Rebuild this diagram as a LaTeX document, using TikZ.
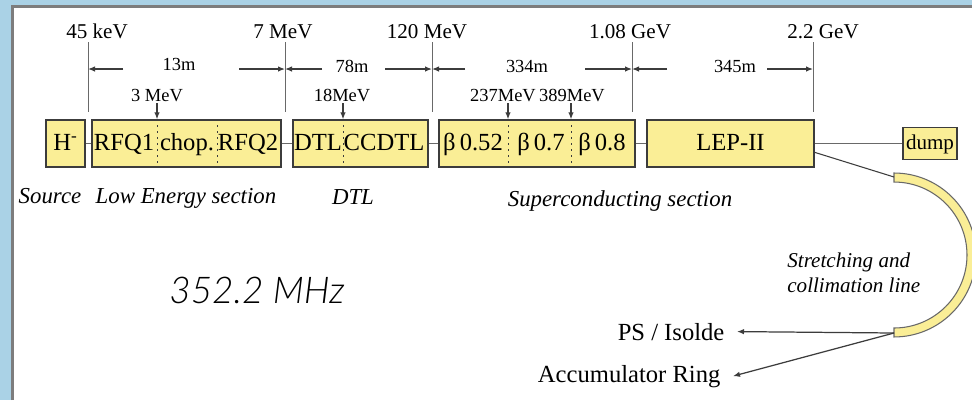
\documentclass[tikz,border=0pt]{standalone}
\usepackage{fontspec}
\setmainfont{Liberation Serif}
\newfontfamily\mhzfont{Lato Light}
\usepackage{tikz}
\usetikzlibrary{arrows.meta,positioning}
\definecolor{lyellow}{RGB}{250,238,150}
\definecolor{bxgray}{RGB}{60,60,60}
\definecolor{lngray}{RGB}{105,105,105}
\definecolor{winblue}{RGB}{170,210,230}
\definecolor{wingray}{RGB}{125,125,125}

\begin{document}
\begin{tikzpicture}[
  x=0.02cm,y=-0.02cm,
  btxt/.style={font=\fontsize{14}{16}\selectfont,text height=0.9em,text depth=0.13em,inner sep=0pt},
  bx/.style={btxt,draw=bxgray,fill=lyellow,line width=0.8pt,minimum height=0.94cm},
  div/.style={bxgray,line width=0.5pt,dash pattern=on 1.2pt off 2.2pt},
  ln/.style={lngray,line width=0.7pt},
  tk/.style={lngray,line width=0.5pt},
  arr/.style={ln,bxgray,-{Latex[length=1.4mm,width=1.1mm]}},
  en/.style={font=\fontsize{12}{14}\selectfont,anchor=base,inner sep=0pt},
  dm/.style={font=\fontsize{10.5}{12}\selectfont,anchor=base,inner sep=0pt},
  sec/.style={font=\fontsize{13}{15}\selectfont\itshape,anchor=base,inner sep=0pt},
  dest/.style={font=\fontsize{14}{16}\selectfont,anchor=base east,inner xsep=7pt,inner ysep=0pt},
  arcb/.style={draw=lngray,fill=lyellow,line width=0.6pt},
  ]
  % window frame
  \useasboundingbox (0,0) rectangle (972,400);
  \fill[winblue] (0,0) rectangle (972,400);
  \fill[white] (14,8) rectangle (972,400);
  \draw[wingray,line width=1.6pt] (12.5,400) -- (12.5,6.5) -- (972,6.5);

  % energy ticks
  \foreach \n/\x in {k0/88,k1/285,k2/432,k3/632,k4/813}{
    \coordinate (\n) at (\x,42);
    \draw[tk] (\n) -- ++(0,70);
  }
  \node[en] (e45)  at (97,38)  {45 keV};
  \node[en] (e7)   at (283,38) {7 MeV};
  \node[en] (e120) at (427,38) {120 MeV};
  \node[en] (e108) at (630,38) {1.08 GeV};
  \node[en] (e22)  at (823,38) {2.2 GeV};

  % lengths
  \node[dm] (l13)  at (179,70) {13m};
  \node[dm] (l78)  at (352,72) {78m};
  \node[dm] (l334) at (527,72) {334m};
  \node[dm] (l345) at (735,72) {345m};
  \foreach \a/\k in {123/k0,239/k1,322/k1,385/k2,465/k2,585/k3,667/k3,767/k4}{
    \coordinate (tail) at (\a,69);
    \draw[arr] (tail) -- (tail -| \k);
  }

  % boxes
  \node[bx,minimum width=0.78cm] (hm)   at (65.5,143.5)  {H\textsuperscript{-}};
  \node[bx,minimum width=3.78cm] (lowe) at (186.5,143.5) {};
  \node[bx,minimum width=2.70cm] (dtl)  at (360.5,143.5) {};
  \node[bx,minimum width=3.92cm] (sc)   at (537,143.5)   {};
  \node[bx,minimum width=3.34cm] (lep)  at (730.5,143.5) {LEP-II};
  \node[bx,minimum width=1.08cm,minimum height=0.64cm,
        font=\fontsize{12}{14}\selectfont,text height=0.8em,text depth=0.16em] (dump) at (930,143.5) {dump};
  \draw[ln] (hm) -- (lowe);
  \draw[ln] (lowe) -- (dtl);
  \draw[ln] (dtl) -- (sc);
  \draw[ln] (sc) -- (lep);
  \draw[ln] (lep) -- (dump);

  % cells
  \foreach \n/\x/\b in {dv1/157/lowe,dv2/217/lowe,dv3/343/dtl,dv4/508/sc,dv5/571/sc}{
    \coordinate (\n) at (\x,0 |- \b.north);
    \draw[div] (\n) -- (\n |- \b.south);
  }
  \node[btxt] (rfq1)  at (124,143.5) {RFQ1};
  \node[btxt] (chop)  at (187,143.5) {chop.};
  \node[btxt] (rfq2)  at (248,143.5) {RFQ2};
  \node[btxt] (dtlc)  at (318,143.5) {DTL};
  \node[btxt] (ccdtl) at (384,143.5) {CCDTL};
  \node[btxt] (b052)  at (473,143.5) {β\,0.52};
  \node[btxt] (b07)   at (541,143.5) {β\,0.7};
  \node[btxt] (b08)   at (602,143.5) {β\,0.8};

  % intermediate energies
  \node[dm] (m3)   at (157,101) {3 MeV};
  \node[dm] (m18)  at (342,101) {18MeV};
  \node[dm] (m237) at (503,101) {237MeV};
  \node[dm] (m389) at (572,101) {389MeV};
  \foreach \m/\d in {m3/dv1,m18/dv3,m237/dv4,m389/dv5}
    \draw[arr,shorten <=1pt] (\m.south -| \d) -- (\d);

  % sections
  \node[sec] (ssrc) at (50,203)  {Source};
  \node[sec] (slow) at (186,203) {Low Energy section};
  \node[sec] (sdtl) at (353,204) {DTL};
  \node[sec] (ssc)  at (620,206) {Superconducting section};

  \node[font=\mhzfont\itshape\fontsize{21}{25}\selectfont,anchor=base,inner sep=0pt] (mhz) at (257,303) {352.2 MHz};

  % stretching and collimation line
  \begin{scope}[shift={(894,255)},x=0.02cm,y=0.02cm]
    \filldraw[arcb] (0,82) arc[start angle=90,end angle=-90,radius=1.64cm]
      -- (0,-73) arc[start angle=-90,end angle=90,radius=1.46cm] -- cycle;
  \end{scope}
  \coordinate (sctop) at (894,177);
  \coordinate (scbot) at (894,333);
  \draw[ln,line width=0.6pt,bxgray] (lep.-6) -- (sctop);
  \node[font=\fontsize{12}{14.2}\selectfont\itshape,align=left,anchor=north west,inner sep=0pt]
    (scl) at (787,252.5) {Stretching and\\collimation line};

  \node[dest] (ps)  at (737,340) {PS / Isolde};
  \node[dest] (acc) at (733,382) {Accumulator Ring};
  \draw[arr] (scbot) -- (ps.east);
  \draw[arr] (scbot) -- (acc.east);
\end{tikzpicture}
\end{document}
